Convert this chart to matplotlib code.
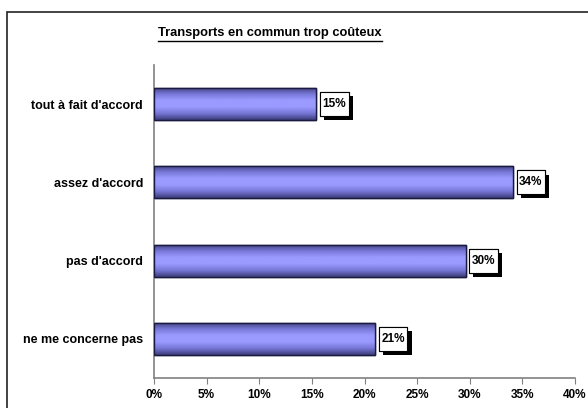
import numpy as np
import matplotlib
matplotlib.use('Agg')
import matplotlib.pyplot as plt
import matplotlib.patheffects as pe
from matplotlib.patches import Rectangle
from matplotlib.path import Path
from matplotlib.colors import LinearSegmentedColormap

plt.rcParams['font.family'] = ['Liberation Sans', 'DejaVu Sans']

# data
categories = ['ne me concerne pas', "pas d'accord", "assez d'accord", "tout à fait d'accord"]
values = [21.0, 29.6, 34.1, 15.4]
labels = ['21%', '30%', '34%', '15%']
xticks = [0, 5, 10, 15, 20, 25, 30, 35, 40]
title = 'Transports en commun trop coûteux'

fig = plt.figure(figsize=(5.88, 4.08), dpi=100)
ax = fig.add_axes([154/588, 1 - 378/408, 421/588, 313/408])

# outer frame
fig.patches.append(Rectangle((7/588, -0.05), 1.0, 1 - 12/408 + 0.05, transform=fig.transFigure,
                             fill=False, edgecolor='#222222', linewidth=1.2, clip_on=False))

y = np.arange(len(categories))
bars = ax.barh(y, values, height=0.41, color='#9999ff', edgecolor='#1a1a40', linewidth=1.0, zorder=2)

# vertical gradient inside each bar
grad_cmap = LinearSegmentedColormap.from_list('g', ['#3c3c7a', '#7777d8', '#9a9aff', '#9a9aff', '#7777d8', '#3c3c7a'])
grad = np.linspace(0, 1, 64).reshape(-1, 1)
for b in bars:
    x0, y0 = b.get_x(), b.get_y()
    w, h = b.get_width(), b.get_height()
    im = ax.imshow(grad, cmap=grad_cmap, aspect='auto', extent=[x0, x0 + w, y0, y0 + h],
                   origin='lower', zorder=2.5, interpolation='bicubic')
    im.set_clip_path(b)
    edge = Rectangle((x0, y0), w, h, fill=False, edgecolor='#1a1a40', linewidth=1.0, zorder=3)
    ax.add_patch(edge)


# label box: little horizontal padding, more vertical padding
def label_box(x0, y0, width, height, mutation_size):
    px = 0.22 * mutation_size
    py = 0.5 * mutation_size
    l, r = x0 - px, x0 + width + px
    b, t = y0 - py, y0 + height + py
    return Path([(l, b), (r, b), (r, t), (l, t), (l, b)], closed=True)


# value labels with shadowed boxes
for b, lab in zip(bars, labels):
    t = ax.annotate(lab, (b.get_width(), b.get_y() + b.get_height() / 2), xytext=(4.5, 0),
                    textcoords='offset points', va='center', ha='left', fontsize=8.5,
                    fontweight='bold', zorder=5,
                    bbox=dict(boxstyle=label_box, facecolor='white', edgecolor='black', linewidth=0.8))
    t.get_bbox_patch().set_path_effects([pe.withSimplePatchShadow(offset=(3, -3), shadow_rgbFace='black', alpha=1.0), pe.Normal()])

ax.set_xlim(0, 40)
ax.set_ylim(-0.5, len(categories) - 0.5)
ax.set_xticks(xticks)
ax.set_xticklabels([f'{v}%' for v in xticks], fontsize=8.5, fontweight='bold')
ax.set_yticks(y)
ax.set_yticklabels(categories, fontsize=9, fontweight='bold')
ax.tick_params(axis='y', length=0, pad=8)
ax.tick_params(axis='x', length=4, color='#808080', pad=4)
for s in ['top', 'right']:
    ax.spines[s].set_visible(False)
for s in ['left', 'bottom']:
    ax.spines[s].set_color('#808080')
    ax.spines[s].set_linewidth(1.2)

# title with underline
tt = fig.text(270/588, 1 - 33/408, title, ha='center', va='center', fontsize=9.25, fontweight='bold')
fig.canvas.draw()
bb = tt.get_window_extent().transformed(fig.transFigure.inverted())
fig.add_artist(plt.Line2D([bb.x0, bb.x1], [bb.y0 - 0.004, bb.y0 - 0.004], color='black', linewidth=1.0,
                          transform=fig.transFigure))

fig.savefig('out.png', dpi=100)
